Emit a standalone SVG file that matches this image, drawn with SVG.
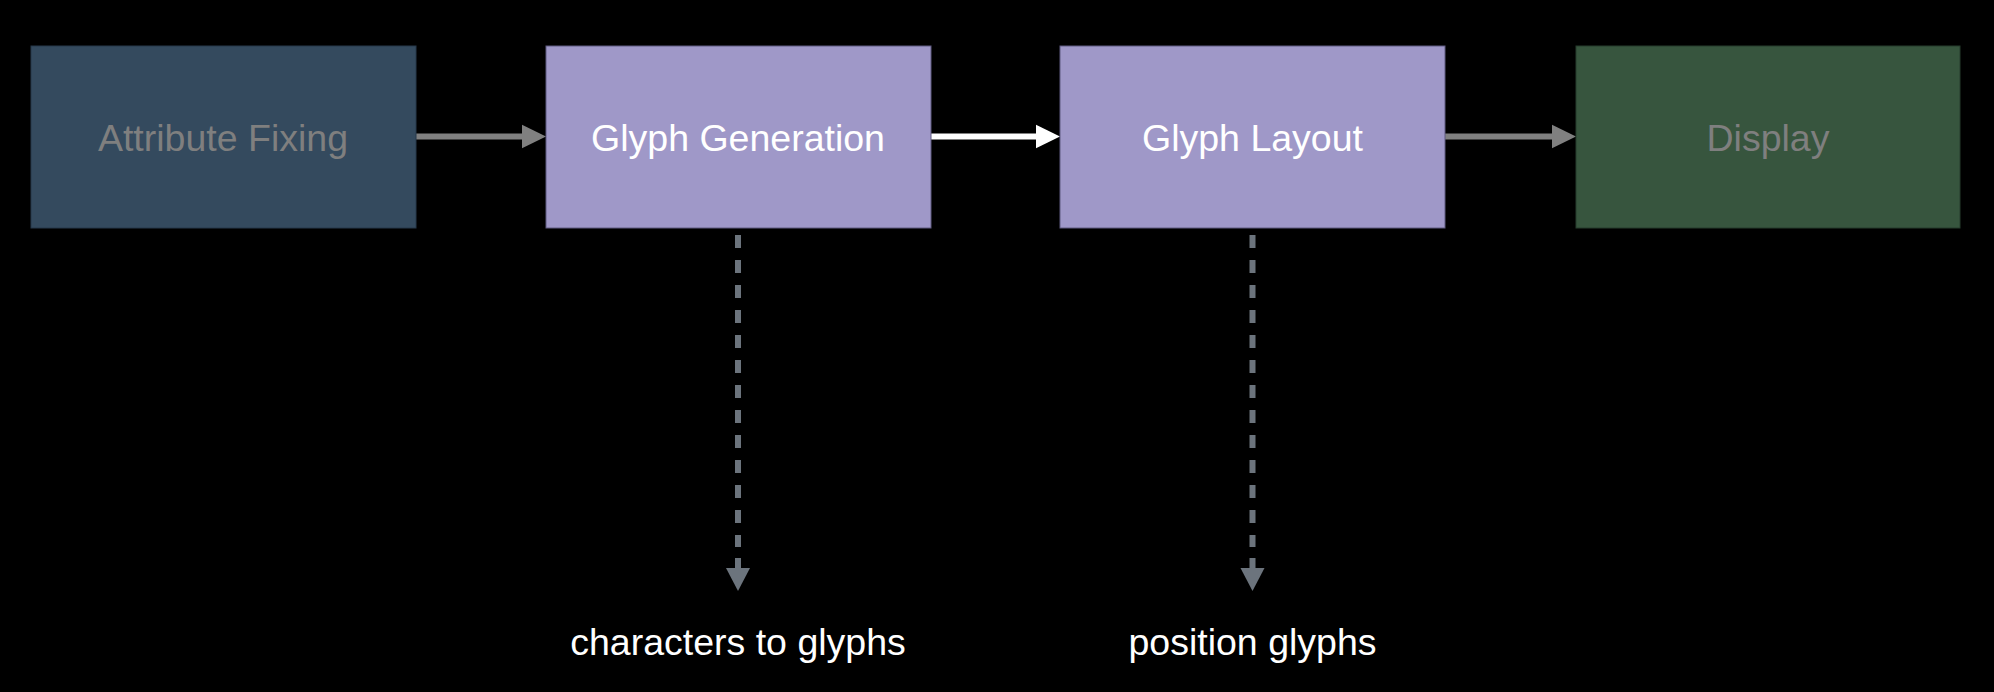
<svg xmlns="http://www.w3.org/2000/svg" width="1994" height="692" viewBox="0 0 1994 692">
<style>
.box{stroke-width:1}
.t{font-family:"Liberation Sans",Arial,sans-serif;font-size:37.5px;text-anchor:middle}
.dim{fill:#7f7f7f}
.lit{fill:#ffffff}
.gray{stroke:#808080;stroke-width:6;fill:none}
.white{stroke:#ffffff;stroke-width:6;fill:none}
.dash{stroke:#6c747d;stroke-width:6;fill:none;stroke-dasharray:13 12}
.shaft{stroke:#6c747d;stroke-width:6;fill:none}
</style>
<defs>
<marker id="hg" markerUnits="userSpaceOnUse" markerWidth="24" markerHeight="24" refX="0" refY="11.7" orient="auto" overflow="visible"><path d="M0,0 L24,11.7 L0,23.4 Z" fill="#808080"/></marker>
<marker id="hw" markerUnits="userSpaceOnUse" markerWidth="24" markerHeight="24" refX="0" refY="11.7" orient="auto" overflow="visible"><path d="M0,0 L24,11.7 L0,23.4 Z" fill="#ffffff"/></marker>
<marker id="hd" markerUnits="userSpaceOnUse" markerWidth="23" markerHeight="24" refX="0" refY="12" orient="auto" overflow="visible"><path d="M0,0 L23,12 L0,24 Z" fill="#6c747d"/></marker>
</defs>
<rect width="1994" height="692" fill="#000000"/>
<g id="connectors">
<line class="gray" x1="416" y1="136.5" x2="522" y2="136.5" marker-end="url(#hg)"/>
<line class="white" x1="931" y1="136.5" x2="1036" y2="136.5" marker-end="url(#hw)"/>
<line class="gray" x1="1445" y1="136.5" x2="1552" y2="136.5" marker-end="url(#hg)"/>
<path class="dash" d="M738,235 V547"/>
<path class="shaft" d="M738,558 V568" marker-end="url(#hd)"/>
<path class="dash" d="M1252.5,235 V547"/>
<path class="shaft" d="M1252.5,558 V568" marker-end="url(#hd)"/>
</g>
<g id="attribute-fixing">
<rect class="box" x="31" y="46" width="385" height="182" fill="#344a5e" stroke="#26384a"/>
<text class="t dim" x="223" y="151">Attribute Fixing</text>
</g>
<g id="glyph-generation">
<rect class="box" x="546" y="46" width="385" height="182" fill="#9f98c8" stroke="#5f5a80"/>
<text class="t lit" x="738" y="151">Glyph Generation</text>
</g>
<g id="glyph-layout">
<rect class="box" x="1060" y="46" width="385" height="182" fill="#9f98c8" stroke="#5f5a80"/>
<text class="t lit" x="1252.5" y="151">Glyph Layout</text>
</g>
<g id="display">
<rect class="box" x="1576" y="46" width="384" height="182" fill="#37553e" stroke="#263d2c"/>
<text class="t dim" x="1768" y="151">Display</text>
</g>
<g id="label-characters">
<text class="t lit" x="738" y="655">characters to glyphs</text>
</g>
<g id="label-position">
<text class="t lit" x="1252.5" y="655">position glyphs</text>
</g>
</svg>
